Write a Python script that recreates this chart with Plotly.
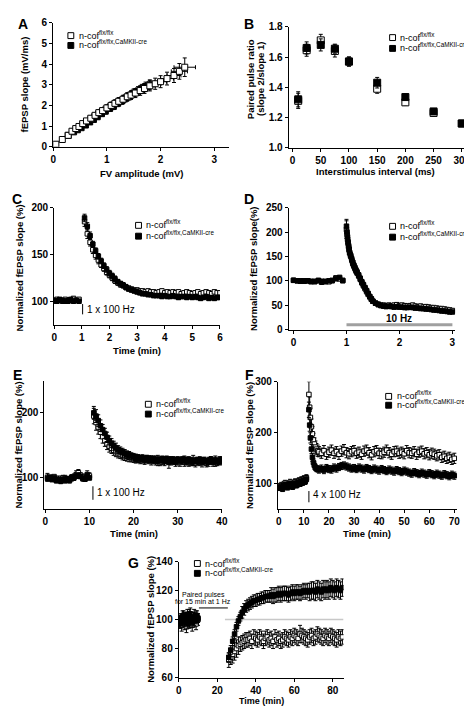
import plotly.graph_objects as go

# ---------------- DATA ----------------
# Panel A: input-output (FV amplitude vs fEPSP slope)
A_open_x = [0.05,0.17,0.28,0.35,0.42,0.48,0.55,0.62,0.70,0.78,0.85,0.92,1.00,1.08,1.15,1.22,1.30,1.38,1.45,1.53,1.62,1.70,1.80,1.90,2.00,2.12,2.25,2.35,2.45]
A_open_y = [0.12,0.35,0.55,0.75,0.88,0.98,1.12,1.25,1.38,1.52,1.65,1.75,1.88,2.00,2.10,2.20,2.30,2.42,2.50,2.60,2.72,2.82,2.95,3.05,3.15,3.30,3.45,3.65,3.85]
A_open_ey = [0.02,0.03,0.05,0.06,0.07,0.08,0.09,0.10,0.11,0.12,0.13,0.14,0.15,0.16,0.17,0.18,0.19,0.20,0.21,0.22,0.23,0.24,0.25,0.27,0.29,0.31,0.34,0.38,0.45]
A_open_ex = [0.01,0.02,0.03,0.03,0.04,0.04,0.05,0.05,0.05,0.06,0.06,0.06,0.07,0.07,0.07,0.08,0.08,0.08,0.09,0.09,0.09,0.10,0.10,0.11,0.11,0.12,0.13,0.15,0.20]
A_fill_x = [0.28,0.38,0.45,0.52,0.60,0.68,0.75,0.82,0.90,0.97,1.05,1.12,1.20,1.28,1.35,1.42,1.50,1.58,1.65,1.72,1.80]
A_fill_y = [0.55,0.72,0.82,0.92,1.05,1.20,1.32,1.45,1.60,1.72,1.85,1.95,2.10,2.22,2.35,2.45,2.60,2.70,2.80,2.90,3.00]
A_fill_ey = [0.04,0.05,0.06,0.07,0.08,0.09,0.10,0.11,0.12,0.13,0.14,0.15,0.16,0.17,0.18,0.19,0.20,0.21,0.22,0.23,0.24]
A_fill_ex = [0.02,0.03,0.03,0.03,0.04,0.04,0.04,0.05,0.05,0.05,0.06,0.06,0.06,0.07,0.07,0.07,0.08,0.08,0.08,0.09,0.09]

# Panel B: paired-pulse ratio
B_isi = [10, 25, 50, 75, 100, 150, 200, 250, 300]
B_open = [1.31, 1.645, 1.71, 1.64, 1.57, 1.39, 1.30, 1.23, 1.16]
B_open_e = [0.05, 0.04, 0.04, 0.04, 0.03, 0.03, 0.02, 0.02, 0.015]
B_fill = [1.32, 1.66, 1.68, 1.655, 1.57, 1.43, 1.335, 1.24, 1.16]
B_fill_e = [0.05, 0.04, 0.04, 0.03, 0.03, 0.035, 0.02, 0.015, 0.01]

# Panel C: 1 x 100 Hz PTP
C_t = [0.0,0.1,0.2,0.3,0.4,0.5,0.6,0.7,0.8,0.9,
       1.1,1.2,1.3,1.4,1.5,1.6,1.7,1.8,1.9,2.0,
       2.1,2.2,2.3,2.4,2.5,2.6,2.7,2.8,2.9,3.0,
       3.1,3.2,3.3,3.4,3.5,3.6,3.7,3.8,3.9,4.0,
       4.1,4.2,4.3,4.4,4.5,4.6,4.7,4.8,4.9,5.0,
       5.1,5.2,5.3,5.4,5.5,5.6,5.7,5.8,5.9,6.0]
C_open = [100,102,101,100,102,100,101,103,101,102,
          185,172,163,155,149,144,139,135,131,128,
          125,122,120,118,117,115,114,113,112,112,
          111,111,110,111,110,110,109,110,111,109,
          110,109,110,109,110,108,109,110,109,108,
          109,110,108,109,110,109,108,110,109,109]
C_open_e = [2,2,2,2,2,2,2,2,2,2,
            5,5,4,4,4,4,3,3,3,3,
            3,3,3,3,3,3,2,2,2,2,
            2,2,2,2,2,2,2,2,2,2,
            2,2,2,2,2,2,2,2,2,2,
            2,2,2,2,2,2,2,2,2,2]
C_fill = [101,100,102,101,100,101,102,100,101,100,
          189,180,170,161,154,148,143,138,134,130,
          127,124,121,119,117,115,113,112,111,110,
          109,108,108,107,107,106,106,106,105,106,
          105,105,106,105,104,105,105,104,105,104,
          105,104,103,104,105,103,104,103,104,104]
C_fill_e = [2,2,2,2,2,2,2,2,2,2,
            4,4,4,3,3,3,3,3,3,3,
            3,3,2,2,2,2,2,2,2,2,
            2,2,2,2,2,2,2,2,2,2,
            2,2,2,2,2,2,2,2,2,2,
            2,2,2,2,2,2,2,2,2,2]

# Panel D: 10 Hz train
D_t = [0.00,0.07,0.13,0.20,0.27,0.33,0.40,0.47,0.53,0.60,0.67,0.73,0.80,0.87,0.93,
       1.00,1.01,1.02,1.03,1.04,1.05,1.06,1.08,1.10,1.12,
       1.14,1.16,1.18,1.20,1.23,1.26,1.29,1.32,1.35,1.38,
       1.41,1.44,1.47,1.50,1.55,1.60,1.65,1.70,1.75,1.80,
       1.85,1.90,1.95,2.00,2.05,2.10,2.15,2.20,2.25,2.30,
       2.35,2.40,2.45,2.50,2.55,2.60,2.65,2.70,2.75,2.80,
       2.85,2.90,2.95,3.00]
D_open = [101,100,100,99,100,99,98,100,97,99,98,101,106,104,101,
          205,195,185,178,170,163,157,150,142,135,
          130,125,120,116,110,103,96,90,84,78,
          72,67,62,58,54,52,50,50,49,50,
          49,50,51,49,50,49,48,49,50,48,
          47,48,46,47,46,45,45,44,43,43,
          42,41,40,39]
D_open_e = [3,2,3,2,3,2,3,2,3,2,3,2,4,4,3,
            18,14,12,10,9,8,8,7,7,6,
            6,6,5,5,5,5,5,5,5,5,
            4,4,4,4,4,4,4,4,4,4,
            4,4,4,4,4,4,4,4,4,4,
            4,4,4,4,4,4,4,4,4,4,
            4,4,4,4]
D_fill = [101,100,99,100,100,98,99,101,99,98,100,100,104,107,100,
          212,200,190,180,172,165,158,152,145,138,
          132,127,122,118,112,105,98,92,86,80,
          74,68,63,58,54,51,49,48,47,48,
          47,46,47,46,46,45,45,46,45,44,
          44,43,43,42,42,41,40,40,39,38,
          38,37,36,36]
D_fill_e = [2,2,2,2,2,2,2,2,2,2,2,2,3,3,2,
            14,12,10,9,8,7,7,6,6,6,
            5,5,5,5,5,5,5,5,4,4,
            4,4,4,4,4,4,3,3,3,3,
            3,3,3,3,3,3,3,3,3,3,
            3,3,3,3,3,3,3,3,3,3,
            3,3,3,3]

# Panel E: 1 x 100 Hz, 40 min
E_t = [0.5,1.0,1.5,2.0,2.5,3.0,3.5,4.0,4.5,5.0,5.5,6.0,6.5,7.0,7.5,8.0,8.5,9.0,9.5,10.0,
       11.0,11.5,12.0,12.5,13.0,13.5,14.0,14.5,15.0,15.5,
       16.0,16.5,17.0,17.5,18.0,18.5,19.0,19.5,20.0,20.5,
       21.0,21.5,22.0,22.5,23.0,23.5,24.0,24.5,25.0,25.5,
       26.0,26.5,27.0,27.5,28.0,28.5,29.0,29.5,30.0,30.5,
       31.0,31.5,32.0,32.5,33.0,33.5,34.0,34.5,35.0,35.5,
       36.0,36.5,37.0,37.5,38.0,38.5,39.0,39.5,40.0]
E_open = [100,99,98,101,96,97,95,99,98,96,97,99,101,104,107,103,100,98,104,102,
          195,185,178,170,163,157,152,148,145,142,
          140,138,136,134,133,132,131,130,129,128,
          129,127,128,126,128,127,126,127,125,126,
          124,126,125,127,123,125,126,124,125,123,
          126,124,125,123,124,126,122,125,124,123,
          125,122,124,126,123,125,124,126,125]
E_open_e = [6,4,5,3,4,5,3,4,5,4,3,5,4,6,5,4,5,4,6,5,
            12,12,11,10,10,9,9,9,8,8,
            8,8,7,7,7,7,7,6,6,6,
            6,6,6,6,6,6,7,6,6,8,
            6,6,7,6,9,6,6,7,6,6,
            6,7,6,6,6,8,6,6,6,7,
            6,6,7,6,6,8,6,6,6]
E_fill = [98,100,97,99,95,96,94,97,95,98,95,100,99,102,103,101,98,97,102,99,
          200,195,188,180,174,168,162,157,153,149,
          146,143,141,139,137,135,134,133,132,131,
          130,129,130,128,129,128,128,127,128,126,
          127,128,126,127,125,127,126,125,127,126,
          126,128,125,127,126,124,126,125,127,125,
          126,124,125,127,125,126,124,126,127]
E_fill_e = [4,3,4,3,4,3,4,3,4,3,4,3,4,3,4,3,4,3,4,3,
            10,10,9,9,8,8,8,7,7,7,
            7,6,6,6,6,6,6,5,5,5,
            5,5,5,5,5,5,5,5,5,5,
            5,5,5,5,5,5,5,5,5,5,
            5,5,5,5,5,5,5,5,5,5,
            5,5,5,5,5,5,5,5,5]

# Panel F: 4 x 100 Hz LTP
F_t = [0.5,1.0,1.5,2.0,2.5,3.0,3.5,4.0,4.5,5.0,5.5,6.0,6.5,7.0,7.5,8.0,8.5,9.0,9.5,10.0,10.5,11.0,
       12.0,12.3,12.6,13.0,13.4,13.8,14.2,14.6,15.0,15.5,
       16,17,18,19,20,21,22,23,24,25,
       26,27,28,29,30,31,32,33,34,35,
       36,37,38,39,40,41,42,43,44,45,
       46,47,48,49,50,51,52,53,54,55,
       56,57,58,59,60,61,62,63,64,65,
       66,67,68,69,70]
F_open = [95,97,93,99,101,98,96,100,103,99,97,101,104,100,102,106,103,108,105,110,107,112,
          275,250,230,212,198,186,178,172,168,165,
          163,160,165,158,162,166,160,163,158,164,
          167,161,159,163,165,160,162,158,164,166,
          161,157,163,165,160,159,162,166,161,158,
          163,164,160,162,159,165,161,160,163,158,
          162,164,159,161,157,160,158,155,157,152,
          154,150,152,148,150]
F_open_e = [6,6,6,6,6,6,6,6,6,6,6,6,6,6,6,6,6,6,6,6,6,6,
            25,20,18,15,14,13,12,12,11,11,
            10,10,10,10,10,10,10,10,10,10,
            10,10,10,10,10,10,10,10,10,10,
            10,10,10,10,10,10,10,10,10,10,
            10,10,10,10,10,10,10,10,10,10,
            10,10,10,10,10,10,10,10,10,10,
            10,10,10,10,10]
F_fill = [92,95,90,96,98,95,93,97,100,96,94,98,101,97,99,103,100,105,102,107,104,109,
          245,215,190,168,152,142,136,132,130,129,
          128,130,127,131,129,128,132,130,133,135,
          136,134,132,130,131,129,132,130,128,131,
          129,127,130,128,126,129,127,125,128,126,
          124,127,125,123,126,124,122,120,123,121,
          119,122,120,118,121,119,117,120,118,116,
          119,117,115,118,116]
F_fill_e = [5,5,5,5,5,5,5,5,5,5,5,5,5,5,5,5,5,5,5,5,5,5,
            15,12,10,9,8,7,7,6,6,6,
            7,7,7,7,7,7,7,7,7,7,
            7,7,7,7,7,7,7,7,7,7,
            7,7,7,7,7,7,7,7,7,7,
            7,7,7,7,7,7,7,7,7,7,
            7,7,7,7,7,7,7,7,7,7,
            7,7,7,7,7]

# Panel G: paired-pulse LFS
G_t = [0.5,1.0,1.5,2.0,2.5,3.0,3.5,4.0,4.5,5.0,5.5,6.0,6.5,7.0,7.5,8.0,8.5,9.0,9.5,10.0,
       26,27,28,29,30,31,32,33,34,35,
       36,37,38,39,40,41,42,43,44,45,
       46,47,48,49,50,51,52,53,54,55,
       56,57,58,59,60,61,62,63,64,65,
       66,67,68,69,70,71,72,73,74,75,
       76,77,78,79,80,81,82,83,84,85]
G_open = [98,100,96,102,99,97,101,95,103,100,98,104,99,96,101,103,99,97,102,100,
          72,74,76,78,80,82,83,84,85,86,
          86,87,85,88,87,86,88,87,85,87,
          88,86,87,85,88,86,87,85,86,88,
          87,86,88,87,89,88,87,90,89,88,
          87,86,88,89,87,88,90,89,88,87,
          89,88,87,89,88,87,86,88,87,88]
G_open_e = [4,4,4,4,4,4,4,4,4,4,4,4,4,4,4,4,4,4,4,4,
            5,5,6,6,6,6,5,5,5,5,
            5,5,5,5,5,5,5,5,5,5,
            5,5,5,5,5,5,5,5,5,5,
            5,5,5,5,5,5,5,6,5,5,
            5,5,5,5,5,5,5,5,5,5,
            5,5,5,5,5,5,5,5,5,5]
G_fill = [100,97,101,99,103,98,100,102,97,101,104,99,100,98,102,99,101,103,100,101,
          74,79,85,90,95,99,102,105,107,109,
          110,111,112,113,113,114,114,115,115,116,
          116,116,117,116,117,117,118,117,118,118,
          118,117,118,119,118,119,119,118,119,120,
          119,120,119,120,120,119,121,120,119,121,
          120,121,120,122,121,120,122,121,120,122]
G_fill_e = [3,3,3,3,3,3,3,3,3,3,3,3,3,3,3,3,3,3,3,3,
            3,3,3,3,3,3,3,4,4,4,
            4,4,4,4,4,4,4,4,4,4,
            4,4,5,5,5,5,5,5,5,5,
            5,5,5,5,5,5,5,5,5,5,
            5,5,6,6,6,6,6,6,6,6,
            6,6,6,6,6,6,6,6,6,6]

legend_open = "n-cof<sup>flx/flx</sup>"
legend_fill = "n-cof<sup>flx/flx,CaMKII-cre</sup>"

# ---------------- LAYOUT HELPERS ----------------
W, H = 472, 707
FONT = "Liberation Sans, Arial, sans-serif"

def px(x):
    return x / W

def py(y):
    return 1 - y / H

fig = go.Figure()

axes_spec = [
    # n, left, right, top, bottom (px), xrange, yrange, xticks, yticks, yfmt
    (1, 43, 222, 9, 135, [0, 3.27], [0, 6], [0, 1, 2, 3], [0, 1, 2, 3, 4, 5, 6], None),
    (2, 283, 463, 13, 136, [-7, 306], [1.0, 1.8], [0, 50, 100, 150, 200, 250, 300], [1.0, 1.2, 1.4, 1.6, 1.8], ".1f"),
    (3, 44, 213, 197, 316, [0, 6], [75, 200], [0, 1, 2, 3, 4, 5, 6], [100, 150, 200], None),
    (4, 283, 453, 197, 321, [-0.093, 3.056], [0, 250], [0, 1, 2, 3], [0, 50, 100, 150, 200, 250], None),
    (5, 34, 215, 373, 504, [-0.2, 40], [50, 250], [0, 10, 20, 30, 40], [100, 200], None),
    (6, 272, 455, 374, 504, [-0.4, 71.2], [50, 300], [0, 10, 20, 30, 40, 50, 60, 70], [100, 200, 300], None),
    (7, 171, 339, 557, 675, [0, 85.6], [60, 140], [0, 20, 40, 60, 80], [60, 80, 100, 120, 140], None),
]

tickfont = dict(family=FONT, size=10, color="black", weight="bold")
layout_axes = {}
for n, l, r, t, b, xr, yr, xt, yt, yfmt in axes_spec:
    sx = "" if n == 1 else str(n)
    common = dict(showline=True, linecolor="black", linewidth=1, ticks="outside",
                  ticklen=3, tickwidth=1, tickcolor="black", showgrid=False,
                  zeroline=False, tickfont=tickfont, fixedrange=True)
    layout_axes["xaxis" + sx] = dict(domain=[px(l), px(r)], range=xr, tickvals=xt,
                                     anchor="y" + sx, **common)
    ydict = dict(domain=[py(b), py(t)], range=yr, tickvals=yt, anchor="x" + sx, **common)
    if yfmt:
        ydict["tickformat"] = yfmt
    layout_axes["yaxis" + sx] = ydict


def ax(n):
    return ("x", "y") if n == 1 else ("x" + str(n), "y" + str(n))


def add_series(n, x, y, ey, filled, size=4.5, ex=None):
    xa, ya = ax(n)
    assert len(x) == len(y) == len(ey), (n, len(x), len(y), len(ey))
    tr = go.Scatter(
        x=x, y=y, mode="markers", xaxis=xa, yaxis=ya, showlegend=False,
        marker=dict(symbol="square", size=size, color="black" if filled else "white",
                    line=dict(color="black", width=1)),
        error_y=dict(type="data", array=ey, color="black", thickness=1, width=2),
    )
    if ex is not None:
        assert len(ex) == len(x)
        tr.error_x = dict(type="data", array=ex, color="black", thickness=1, width=2)
    fig.add_trace(tr)


# Panel A
add_series(1, A_fill_x, A_fill_y, A_fill_ey, True, size=6, ex=A_fill_ex)
add_series(1, A_open_x, A_open_y, A_open_ey, False, size=6, ex=A_open_ex)
# Panel B
add_series(2, B_isi, B_open, B_open_e, False, size=7)
add_series(2, B_isi, B_fill, B_fill_e, True, size=7)
# Panel C-G
add_series(3, C_t, C_open, C_open_e, False)
add_series(3, C_t, C_fill, C_fill_e, True)
add_series(4, D_t, D_open, D_open_e, False)
add_series(4, D_t, D_fill, D_fill_e, True)
add_series(5, E_t, E_open, E_open_e, False)
add_series(5, E_t, E_fill, E_fill_e, True)
add_series(6, F_t, F_open, F_open_e, False)
add_series(6, F_t, F_fill, F_fill_e, True)
add_series(7, G_t, G_open, G_open_e, False)
add_series(7, G_t, G_fill, G_fill_e, True)

shapes = []
annotations = []


def ann(x, y, text, size=9.5, angle=0, xanchor="center", bold=True, **kw):
    annotations.append(dict(x=px(x), y=py(y), xref="paper", yref="paper", text=text,
                            showarrow=False, textangle=angle, xanchor=xanchor, yanchor="middle",
                            font=dict(family=FONT, size=size, color="black",
                                      weight="bold" if bold else "normal"), **kw))


def legend(sx, sy, dy):
    for i, (fill, txt) in enumerate([("white", legend_open), ("black", legend_fill)]):
        cy = sy + i * dy
        shapes.append(dict(type="rect", xref="paper", yref="paper",
                           x0=px(sx - 3), x1=px(sx + 3), y0=py(cy + 3), y1=py(cy - 3),
                           line=dict(color="black", width=1), fillcolor=fill))
        ann(sx + 6, cy - 1, txt, size=9, xanchor="left", bold=False)


legend(61, 22, 10)
legend(389, 24, 11)
legend(130, 215, 11)
legend(389, 216, 11)
legend(140, 397, 10)
legend(385, 389, 9)
legend(190, 559, 10)

# panel letters
for letter, x, y in [("A", 12, 10), ("B", 243, 10), ("C", 6, 188), ("D", 243, 188),
                     ("E", 7, 367), ("F", 243, 367), ("G", 125, 558)]:
    ann(x, y, letter, size=14)

# axis titles
ann(14, 72, "fEPSP slope (mV/ms)", angle=-90)
ann(133, 162, "FV amplitude (mV)")
ann(245, 66, "Paired pulse ratio", angle=-90)
ann(255, 66, "(slope 2/slope 1)", angle=-90)
ann(372, 160, "Interstimulus interval (ms)")
ann(9, 258, "Normalized fEPSP slope (%)", angle=-90)
ann(128, 342, "Time (min)")
ann(247, 259, "Normalized fEPSP slope(%)", angle=-90)
ann(8, 438, "Normalized fEPSP slope (%)", angle=-90)
ann(125, 528, "Time (min)")
ann(243, 439, "Normalized fEPSP slope (%)", angle=-90)
ann(363, 528, "Time (min)")
ann(142, 616, "Normalized fEPSP slope (%)", angle=-90)
ann(255, 699, "Time (min)", size=9)

# stimulation markers
shapes.append(dict(type="line", xref="x3", yref="y3", x0=1.03, x1=1.03, y0=86, y1=97,
                   line=dict(color="black", width=1)))
annotations.append(dict(x=1.1, y=91, xref="x3", yref="y3", text="1 x 100 Hz", showarrow=False,
                        xanchor="left", font=dict(family=FONT, size=10, color="black")))
shapes.append(dict(type="line", xref="x4", yref="y4", x0=1, x1=3, y0=10, y1=10,
                   line=dict(color="#a0a0a0", width=3)))
annotations.append(dict(x=2, y=22, xref="x4", yref="y4", text="10 Hz", showarrow=False,
                        font=dict(family=FONT, size=10, color="black", weight="bold")))
shapes.append(dict(type="line", xref="x5", yref="y5", x0=10.8, x1=10.8, y0=65, y1=86,
                   line=dict(color="black", width=1)))
annotations.append(dict(x=11.3, y=77, xref="x5", yref="y5", text="1 x 100 Hz", showarrow=False,
                        xanchor="left", font=dict(family=FONT, size=10, color="black")))
shapes.append(dict(type="line", xref="x6", yref="y6", x0=12, x1=12, y0=64, y1=86,
                   line=dict(color="black", width=1)))
annotations.append(dict(x=13, y=79, xref="x6", yref="y6", text="4 x 100 Hz", showarrow=False,
                        xanchor="left", font=dict(family=FONT, size=10, color="black")))
shapes.append(dict(type="line", xref="x7", yref="y7", x0=24, x1=85.6, y0=100, y1=100,
                   line=dict(color="#c8c8c8", width=1.5), layer="below"))
shapes.append(dict(type="line", xref="x7", yref="y7", x0=10.5, x1=25.5, y0=108, y1=108,
                   line=dict(color="black", width=1)))
ann(196, 591, "Paired pulses", size=7, bold=False)
ann(196, 598, "for 15 min at 1 Hz", size=7, bold=False)

fig.update_layout(
    width=W, height=H, margin=dict(l=0, r=0, t=0, b=0),
    paper_bgcolor="white", plot_bgcolor="white",
    shapes=shapes, annotations=annotations, showlegend=False,
    **layout_axes,
)

fig.write_html("out.html")
